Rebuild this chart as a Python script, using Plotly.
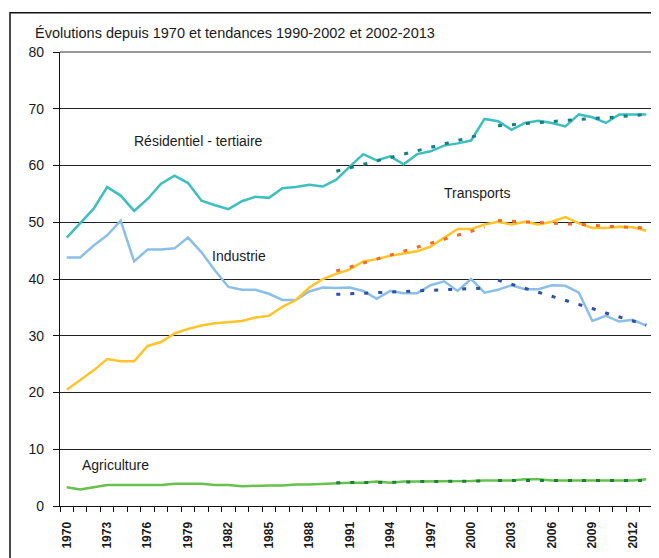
import plotly.graph_objects as go

years = list(range(1970, 2014))

residentiel = [47.3, 49.9, 52.4, 56.2, 54.7, 52.0, 54.1, 56.8, 58.2, 56.9,
               53.8, 53.0, 52.3, 53.7, 54.5, 54.3, 56.0, 56.2, 56.6, 56.3,
               57.5, 59.8, 62.0, 60.9, 61.6, 60.2, 62.0, 62.5, 63.5, 63.9,
               64.4, 68.2, 67.8, 66.3, 67.5, 67.9, 67.5, 66.9, 69.0, 68.5,
               67.5, 69.0, 69.0, 69.0]
industrie = [43.8, 43.8, 45.9, 47.7, 50.3, 43.1, 45.2, 45.2, 45.4, 47.3,
             44.7, 41.5, 38.6, 38.1, 38.1, 37.4, 36.3, 36.3, 37.8, 38.5,
             38.4, 38.5, 37.9, 36.5, 37.9, 37.5, 37.5, 38.9, 39.6, 37.9,
             40.0, 37.6, 38.1, 38.9, 38.2, 38.2, 38.9, 38.8, 37.6, 32.6,
             33.5, 32.5, 32.8, 31.8]
transports = [20.5, 22.2, 23.9, 25.9, 25.5, 25.5, 28.2, 28.9, 30.4, 31.2,
              31.8, 32.2, 32.4, 32.6, 33.2, 33.5, 35.1, 36.3, 38.5, 40.0,
              40.9, 41.7, 43.1, 43.5, 44.1, 44.5, 44.9, 45.7, 47.2, 48.8,
              48.8, 49.6, 50.1, 49.6, 50.1, 49.6, 50.1, 50.9, 49.8, 49.0,
              49.0, 49.2, 49.1, 48.5]
agriculture = [3.3, 2.9, 3.3, 3.7, 3.7, 3.7, 3.7, 3.7, 3.9, 3.9,
               3.9, 3.7, 3.7, 3.5, 3.6, 3.6, 3.6, 3.8, 3.8, 3.9,
               4.1, 4.1, 4.1, 4.3, 4.1, 4.3, 4.3, 4.3, 4.3, 4.3,
               4.4, 4.5, 4.5, 4.5, 4.7, 4.7, 4.5, 4.5, 4.5, 4.5,
               4.5, 4.5, 4.5, 4.7]

years_t1 = list(range(1990, 2002))
years_t2 = list(range(2002, 2014))
res_t1 = [59.0, 59.6, 60.2, 60.8, 61.4, 62.0, 62.6, 63.2, 63.8, 64.4, 65.0, 65.6]
res_t2 = [67.0, 67.2, 67.4, 67.5, 67.7, 67.9, 68.1, 68.3, 68.4, 68.6, 68.8, 69.0]
ind_t1 = [37.3, 37.4, 37.5, 37.6, 37.7, 37.8, 37.9, 38.0, 38.1, 38.2, 38.3, 38.4]
ind_t2 = [39.8, 39.1, 38.4, 37.6, 36.9, 36.2, 35.5, 34.8, 34.0, 33.3, 32.6, 31.9]
tra_t1 = [41.4, 42.1, 42.8, 43.5, 44.2, 44.9, 45.6, 46.3, 47.0, 47.7, 48.4, 49.1]
tra_t2 = [50.3, 50.2, 50.1, 49.9, 49.8, 49.7, 49.6, 49.5, 49.3, 49.2, 49.1, 49.0]
agr_t1 = [4.1, 4.1, 4.2, 4.2, 4.2, 4.2, 4.3, 4.3, 4.3, 4.3, 4.4, 4.4]
agr_t2 = [4.5, 4.5, 4.5, 4.5, 4.5, 4.5, 4.5, 4.5, 4.5, 4.5, 4.5, 4.5]

tick_years = list(range(1970, 2014, 3))
y_ticks = [0, 10, 20, 30, 40, 50, 60, 70, 80]

title_text = "Évolutions depuis 1970 et tendances 1990-2002 et 2002-2013"
labels = [
    ("Résidentiel - tertiaire", 1979.74, 64.3),
    ("Transports", 2000.43, 55.1),
    ("Industrie", 1982.8, 44.0),
    ("Agriculture", 1973.65, 7.3),
]

FONT = "Liberation Sans, Arial, sans-serif"

fig = go.Figure()

mains = [
    (residentiel, "#3EBFBF"),
    (industrie, "#8CBFE8"),
    (transports, "#FFC42A"),
    (agriculture, "#66C24C"),
]
for vals, col in mains:
    fig.add_trace(go.Scatter(x=years, y=vals, mode="lines",
                             line=dict(color=col, width=2.5),
                             showlegend=False, hoverinfo="skip"))

trends = [
    (years_t1, res_t1, "#147E80"), (years_t2, res_t2, "#147E80"),
    (years_t1, ind_t1, "#2E4EA8"), (years_t2, ind_t2, "#2E4EA8"),
    (years_t1, tra_t1, "#F06A2C"), (years_t2, tra_t2, "#F06A2C"),
    (years_t1, agr_t1, "#1C7F3C"), (years_t2, agr_t2, "#1C7F3C"),
]
for xs, vals, col in trends:
    fig.add_trace(go.Scatter(x=xs, y=vals, mode="lines",
                             line=dict(color=col, width=3, dash="4px,10px"),
                             showlegend=False, hoverinfo="skip"))

for txt, xv, yv in labels:
    fig.add_annotation(x=xv, y=yv, text=txt, showarrow=False,
                       xanchor="center", yanchor="middle",
                       font=dict(family=FONT, size=14, color="#1a1a1a"))

fig.add_annotation(x=-0.045, y=1.042, xref="paper", yref="paper",
                   text=title_text, showarrow=False,
                   xanchor="left", yanchor="middle",
                   font=dict(family=FONT, size=14.5, color="#1a1a1a"))

# outer frame
fig.add_shape(type="rect", xref="paper", yref="paper",
              x0=-0.0843, x1=1.2, y0=-0.3, y1=1.0866,
              line=dict(color="#111111", width=1.5), layer="below")
# right and top border of plot area (grey)
fig.add_shape(type="line", xref="paper", yref="paper",
              x0=1, x1=1, y0=0, y1=1,
              line=dict(color="#9a9a9a", width=1.5))
fig.add_shape(type="line", xref="paper", yref="paper",
              x0=0, x1=1, y0=1, y1=1,
              line=dict(color="#777777", width=1.5))

fig.update_layout(
    width=651, height=550,
    margin=dict(l=52, r=6, t=44, b=52),
    paper_bgcolor="white", plot_bgcolor="white",
    font=dict(family=FONT, size=14, color="#1a1a1a"),
    xaxis=dict(
        range=[1969.5, 2013.5], tickmode="array", tickvals=tick_years,
        ticktext=[str(y) for y in tick_years], tickangle=-90,
        ticks="", showgrid=False, zeroline=False,
        showline=True, linecolor="#111111", linewidth=1.2,
        tickfont=dict(family=FONT, size=12, color="#1a1a1a", weight="bold"),
        ticklabelstandoff=10,
        minor=dict(tickmode="linear", tick0=1969.5, dtick=1,
                   ticks="outside", ticklen=5, tickcolor="#111111",
                   tickwidth=1, showgrid=False),
    ),
    yaxis=dict(
        range=[0, 80], tickmode="array", tickvals=y_ticks,
        showgrid=True, gridcolor="#222222", gridwidth=1,
        zeroline=False, showline=True, linecolor="#111111", linewidth=1.2,
        ticks="outside", ticklen=6, tickcolor="#111111",
        tickfont=dict(family=FONT, size=14, color="#1a1a1a"),
        ticklabelstandoff=6,
    ),
)

fig.write_html("out.html")
